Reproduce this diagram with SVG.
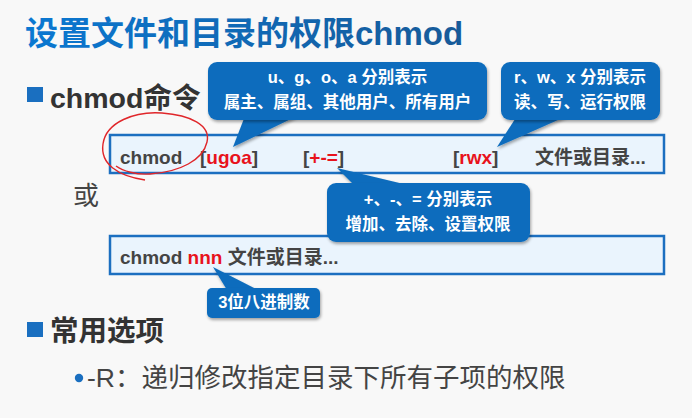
<svg xmlns="http://www.w3.org/2000/svg" width="692" height="418" viewBox="0 0 692 418">
<defs>
<linearGradient id="tg" x1="0" y1="0" x2="1" y2="0">
<stop offset="0" stop-color="#0a78d2"/>
<stop offset="1" stop-color="#175a98"/>
</linearGradient>
<filter id="sh" x="-10%" y="-10%" width="120%" height="130%">
<feDropShadow dx="1" dy="2" stdDeviation="1.5" flood-color="#000" flood-opacity="0.35"/>
</filter>
<style>
.bg{fill:#f8f8f8}
.title{font-family:"Liberation Sans","Noto Sans CJK SC",sans-serif;font-weight:bold;font-size:33px;fill:url(#tg)}
.h{font-family:"Liberation Sans","Noto Sans CJK SC",sans-serif;font-weight:bold;font-size:28.5px;fill:#333}
.sq{fill:#1a6fc0}
.box{fill:#eaf4fd;stroke:#1c6fc0;stroke-width:2.5}
.bt{font-family:"Liberation Sans","Noto Sans CJK SC",sans-serif;font-weight:bold;font-size:19px;fill:#444}
.red{fill:#e8121c}
.co{fill:#0b6cbd;filter:url(#sh)}
.ct{font-family:"Liberation Sans","Noto Sans CJK SC",sans-serif;font-weight:bold;font-size:16.5px;fill:#fff;text-anchor:middle}
.n{font-family:"Liberation Sans","Noto Sans CJK SC",sans-serif;font-size:26px;fill:#444}
.it{font-family:"Liberation Sans","Noto Sans CJK SC",sans-serif;font-size:26.5px;fill:#444}
</style>
</defs>
<rect class="bg" x="0" y="0" width="692" height="418"/>

<g id="title"><text class="title" x="25" y="45">设置文件和目录的权限chmod</text></g>

<g id="heading1">
<rect class="sq" x="27" y="87" width="16" height="15"/>
<text class="h" x="50" y="108">chmod命令</text>
</g>

<g id="box1">
<rect class="box" x="110" y="135" width="554" height="38"/>
<text class="bt" x="120" y="164">chmod</text>
<text class="bt" x="200" y="164">[<tspan class="red">ugoa</tspan>]</text>
<text class="bt" x="303" y="164">[<tspan class="red">+-=</tspan>]</text>
<text class="bt" x="453" y="164">[<tspan class="red">rwx</tspan>]</text>
<text class="bt" x="535" y="164">文件或目录...</text>
</g>

<g id="or"><text class="n" x="73" y="205">或</text></g>

<g id="box2">
<rect class="box" x="110" y="236" width="554" height="38"/>
<text class="bt" x="120" y="264">chmod <tspan class="red">nnn</tspan> 文件或目录...</text>
</g>

<g id="redcircle">
<path d="M145 180 C118 176,100 164,103 144 C106 122,135 111,162 113 C190 115,211 125,207 142 C203 160,180 172,150 174 C136 175,123 171,116 166" fill="none" stroke="#e0262a" stroke-width="1.4"/>
</g>

<g id="connectors">
<polygon class="co" points="245,116 297,116 233,147"/>
<polygon class="co" points="517,116 567,116 497,147"/>
<polygon class="co" points="355,186 412,186 337,168"/>
<polygon class="co" points="227,290 258,290 213,267"/>
</g>

<g id="callout1">
<rect class="co" x="208" y="62" width="279" height="58" rx="9"/>
<text class="ct" x="347.5" y="83">u、g、o、a 分别表示</text>
<text class="ct" x="347.5" y="108">属主、属组、其他用户、所有用户</text>
</g>

<g id="callout2">
<rect class="co" x="501" y="62" width="159" height="58" rx="9"/>
<text class="ct" x="580" y="83">r、w、x 分别表示</text>
<text class="ct" x="580" y="108">读、写、运行权限</text>
</g>

<g id="callout3">
<rect class="co" x="327" y="183" width="203" height="59" rx="9"/>
<text class="ct" x="428" y="205">+、-、= 分别表示</text>
<text class="ct" x="428" y="230">增加、去除、设置权限</text>
</g>

<g id="callout4">
<rect class="co" x="207" y="288" width="113" height="30" rx="5"/>
<text class="ct" x="264" y="308">3位八进制数</text>
</g>

<g id="heading2">
<rect class="sq" x="27" y="322" width="16" height="15"/>
<text class="h" x="50" y="341">常用选项</text>
</g>

<g id="item1">
<circle cx="79" cy="378" r="4.2" fill="#1a6fc0"/>
<text class="it" x="87" y="387">-R：递归修改指定目录下所有子项的权限</text>
</g>
</svg>
